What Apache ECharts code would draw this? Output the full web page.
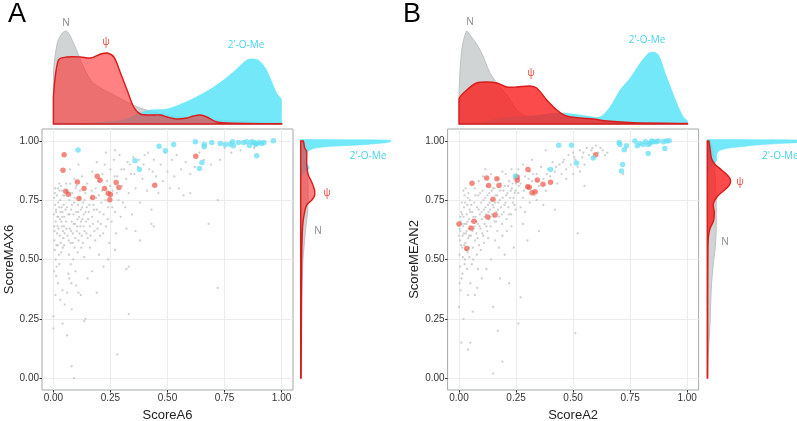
<!DOCTYPE html>
<html><head><meta charset="utf-8">
<script src="https://cdn.jsdelivr.net/npm/echarts@6/dist/echarts.min.js"></script>
<style>html,body{margin:0;padding:0;background:#fff}#c{width:797px;height:421px}</style>
</head><body><div id="c"></div>
<script>
// ---------- tick values ----------
const tickValues = [0, 0.25, 0.5, 0.75, 1];

// ---------- Panel A scatter ----------
const grayA = [
[0.005,0.62],[0.01,0.66],[0.012,0.70],[0.008,0.73],[0.015,0.77],[0.02,0.80],[0.004,0.58],[0.006,0.54],[0.018,0.64],[0.022,0.68],[0.025,0.72],[0.03,0.75],[0.028,0.60],[0.032,0.57],[0.035,0.66],[0.04,0.70],[0.038,0.79],[0.042,0.62],[0.045,0.73],[0.048,0.68],[0.01,0.50],[0.014,0.47],[0.002,0.69],[0.003,0.76],[0.019,0.56],[0.024,0.52],[0.027,0.79],[0.033,0.81],[0.036,0.72],[0.041,0.55],[0.046,0.64],[0.05,0.77],[0.007,0.80],[0.016,0.61],[0.021,0.74],[0.029,0.67],[0.044,0.59],[0.012,0.43],[0.02,0.40],[0.009,0.35],[0.003,0.45],[0.026,0.48],
[0.055,0.66],[0.06,0.72],[0.062,0.60],[0.065,0.69],[0.07,0.75],[0.072,0.63],[0.075,0.57],[0.078,0.71],[0.08,0.66],[0.083,0.78],[0.085,0.61],[0.088,0.69],[0.09,0.74],[0.093,0.55],[0.095,0.65],[0.098,0.80],[0.1,0.70],[0.102,0.62],[0.105,0.67],[0.108,0.73],[0.11,0.58],[0.113,0.68],[0.115,0.76],[0.118,0.64],[0.12,0.71],[0.124,0.60],[0.127,0.67],[0.13,0.74],[0.133,0.69],[0.136,0.62],[0.14,0.78],[0.143,0.66],[0.146,0.72],[0.15,0.59],[0.058,0.79],[0.068,0.52],[0.076,0.48],[0.087,0.50],[0.097,0.45],[0.066,0.44],[0.079,0.40],[0.106,0.53],[0.122,0.55],[0.135,0.51],[0.056,0.82],[0.092,0.84],[0.125,0.85],[0.072,0.88],[0.11,0.90],
[0.155,0.70],[0.16,0.64],[0.165,0.76],[0.17,0.68],[0.175,0.73],[0.18,0.62],[0.185,0.80],[0.19,0.71],[0.195,0.66],[0.2,0.77],[0.205,0.60],[0.21,0.74],[0.215,0.86],[0.22,0.69],[0.225,0.90],[0.23,0.64],[0.235,0.83],[0.24,0.72],[0.245,0.57],[0.25,0.88],[0.255,0.66],[0.26,0.79],[0.265,0.92],[0.27,0.70],[0.275,0.61],[0.28,0.85],[0.285,0.75],[0.29,0.94],[0.295,0.68],[0.3,0.81],[0.31,0.88],[0.315,0.72],[0.32,0.63],[0.325,0.91],[0.33,0.78],[0.34,0.86],[0.345,0.69],[0.35,0.93],[0.17,0.87],[0.19,0.91],[0.23,0.95],[0.27,0.96],[0.16,0.55],[0.2,0.52],
[0.36,0.80],[0.37,0.89],[0.38,0.74],[0.39,0.84],[0.4,0.94],[0.41,0.79],[0.42,0.88],[0.43,0.71],[0.44,0.92],[0.45,0.85],[0.46,0.78],[0.47,0.90],[0.48,0.83],[0.49,0.95],[0.5,0.87],[0.51,0.80],[0.52,0.92],[0.53,0.85],[0.54,0.94],[0.55,0.80],[0.56,0.88],[0.57,0.77],[0.58,0.91],[0.6,0.86],[0.6,0.78],[0.43,0.65],[0.44,0.64],[0.38,0.58],[0.36,0.62],[0.33,0.47],[0.32,0.46],
[0.62,0.89],[0.64,0.95],[0.66,0.92],[0.68,0.65],[0.69,0.90],[0.72,0.75],[0.72,0.38],[0.73,0.92],[0.75,0.97],[0.78,0.95],[0.82,0.96],[0.88,0.97],
[0.0,0.21],[0.0,0.26],[0.04,0.37],[0.06,0.36],[0.04,0.23],[0.06,0.18],[0.08,0.05],[0.09,0.0],[0.08,0.29],[0.12,0.35],[0.14,0.25],[0.135,0.24],[0.33,0.27],[0.28,0.10],[0.11,0.36],[0.07,0.42],[0.05,0.31],[0.1,0.39],[0.03,0.33],[0.17,0.45],[0.24,0.50],[0.27,0.54],[0.22,0.47],[0.19,0.36],[0.15,0.42],
[0.004,0.64],[0.011,0.71],[0.017,0.68],[0.023,0.63],[0.031,0.70],[0.037,0.64],[0.043,0.77],[0.049,0.61],[0.006,0.78],[0.013,0.56],[0.026,0.82],[0.034,0.53],[0.039,0.68],[0.047,0.56],[0.053,0.71],[0.057,0.63],[0.063,0.78],[0.067,0.58],[0.071,0.69],[0.074,0.82],[0.077,0.62],[0.081,0.73],[0.084,0.57],[0.089,0.65],[0.094,0.76],[0.096,0.59],[0.101,0.81],[0.104,0.64],[0.109,0.70],[0.114,0.61],[0.117,0.79],[0.121,0.66],[0.126,0.72],[0.129,0.57],[0.132,0.64],[0.137,0.75],[0.141,0.70],[0.145,0.61],[0.148,0.82],[0.152,0.67],[0.158,0.73],[0.163,0.60],[0.168,0.79],[0.173,0.65],[0.178,0.71],[0.183,0.58],[0.188,0.76],[0.193,0.63],[0.198,0.83],[0.203,0.70],[0.208,0.65],[0.213,0.79],[0.218,0.61],[0.228,0.75],[0.238,0.67],[0.248,0.81],[0.258,0.72],[0.268,0.85],[0.278,0.78],[0.298,0.88],[0.305,0.74],[0.318,0.84],[0.335,0.90],[0.355,0.86],[0.375,0.92],[0.395,0.90],[0.415,0.95],[0.435,0.87]
];
const psiA = [
[0.047,0.942],[0.042,0.876],[0.054,0.788],[0.066,0.775],[0.105,0.827],[0.112,0.757],[0.134,0.799],[0.172,0.761],[0.192,0.851],[0.204,0.834],[0.224,0.799],[0.240,0.779],[0.250,0.774],[0.247,0.752],[0.275,0.824],[0.287,0.803],[0.444,0.813],[0.624,0.935]
];
const omeA = [
[0.108,0.961],[0.377,0.879],[0.358,0.916],[0.463,0.977],[0.491,0.958],[0.527,0.985],[0.622,0.996],[0.640,0.883],[0.651,0.909],[0.661,0.975],[0.661,0.985],[0.694,0.993],[0.731,0.989],[0.753,0.985],[0.774,0.986],[0.785,0.996],[0.789,0.979],[0.811,0.993],[0.833,0.993],[0.847,0.996],[0.859,0.980],[0.869,0.996],[0.879,0.993],[0.891,0.937],[0.891,0.989],[0.902,0.993],[0.913,0.989],[0.923,0.993],[0.964,1.0],[0.886,0.985]
];

// ---------- Panel B scatter ----------
const grayB = [
[0.002,0.52],[0.004,0.58],[0.006,0.62],[0.008,0.66],[0.01,0.70],[0.012,0.74],[0.014,0.55],[0.016,0.60],[0.018,0.64],[0.02,0.68],[0.022,0.72],[0.024,0.77],[0.026,0.50],[0.028,0.57],[0.03,0.61],[0.032,0.65],[0.034,0.69],[0.036,0.73],[0.038,0.53],[0.04,0.59],[0.042,0.63],[0.044,0.67],[0.046,0.71],[0.048,0.75],[0.005,0.47],[0.015,0.44],[0.025,0.48],[0.035,0.46],[0.045,0.51],[0.003,0.40],[0.011,0.42],[0.007,0.37],[0.019,0.79],[0.029,0.80],[0.041,0.78],[0.001,0.60],[0.013,0.65],[0.023,0.56],[0.033,0.62],[0.043,0.55],
[0.052,0.60],[0.055,0.66],[0.058,0.70],[0.061,0.55],[0.064,0.63],[0.067,0.74],[0.07,0.58],[0.073,0.68],[0.076,0.61],[0.079,0.72],[0.082,0.65],[0.085,0.77],[0.088,0.56],[0.091,0.69],[0.094,0.63],[0.097,0.74],[0.1,0.67],[0.103,0.79],[0.106,0.60],[0.109,0.71],[0.112,0.65],[0.115,0.76],[0.118,0.69],[0.121,0.81],[0.124,0.62],[0.127,0.73],[0.13,0.67],[0.133,0.78],[0.136,0.71],[0.139,0.64],[0.142,0.75],[0.145,0.69],[0.148,0.80],[0.062,0.50],[0.078,0.52],[0.095,0.54],[0.11,0.57],[0.128,0.59],[0.069,0.80],[0.087,0.83],[0.105,0.85],[0.14,0.86],[0.115,0.88],[0.056,0.48],[0.083,0.46],
[0.152,0.72],[0.156,0.66],[0.16,0.77],[0.164,0.70],[0.168,0.62],[0.172,0.74],[0.176,0.68],[0.18,0.79],[0.184,0.72],[0.188,0.65],[0.192,0.76],[0.196,0.70],[0.2,0.81],[0.204,0.74],[0.208,0.67],[0.212,0.78],[0.216,0.72],[0.22,0.83],[0.224,0.76],[0.228,0.69],[0.232,0.80],[0.236,0.74],[0.24,0.84],[0.244,0.78],[0.248,0.71],[0.25,0.82],[0.158,0.58],[0.175,0.55],[0.19,0.60],[0.21,0.62],[0.23,0.64],[0.17,0.84],[0.19,0.87],[0.205,0.86],[0.23,0.88],
[0.26,0.78],[0.27,0.82],[0.28,0.76],[0.29,0.85],[0.3,0.80],[0.31,0.87],[0.32,0.83],[0.33,0.77],[0.34,0.86],[0.35,0.81],[0.36,0.89],[0.37,0.84],[0.38,0.79],[0.39,0.88],[0.4,0.85],[0.41,0.91],[0.42,0.87],[0.43,0.82],[0.44,0.90],[0.45,0.86],[0.27,0.72],[0.29,0.70],[0.31,0.74],[0.34,0.75],[0.37,0.73],[0.26,0.88],[0.28,0.90],[0.32,0.92],
[0.46,0.92],[0.47,0.88],[0.48,0.94],[0.49,0.90],[0.5,0.95],[0.51,0.92],[0.52,0.89],[0.53,0.96],[0.54,0.93],[0.55,0.90],[0.56,0.97],[0.57,0.94],[0.58,0.96],[0.59,0.93],[0.6,0.98],[0.61,0.95],[0.62,0.97],[0.63,0.96],[0.64,0.94],[0.65,0.95],[0.5,0.86],[0.47,0.84],[0.55,0.81],[0.53,0.87],
[0.0,0.30],[0.01,0.15],[0.04,0.12],[0.05,0.15],[0.07,0.35],[0.04,0.35],[0.15,0.30],[0.17,0.20],[0.19,0.07],[0.15,0.02],[0.27,0.34],[0.26,0.23],[0.51,0.19],[0.52,0.61],[0.42,0.71],[0.22,0.40],[0.18,0.42],[0.1,0.42],[0.05,0.40],[0.08,0.38],[0.35,0.62],[0.3,0.58],[0.28,0.65],[0.12,0.46],[0.14,0.50],[0.2,0.52],[0.24,0.55],[0.06,0.28],[0.02,0.25],[0.72,0.86],[0.38,0.96],
[0.003,0.63],[0.009,0.56],[0.014,0.69],[0.021,0.61],[0.027,0.74],[0.031,0.54],[0.037,0.66],[0.044,0.60],[0.049,0.70],[0.006,0.68],[0.017,0.51],[0.024,0.65],[0.039,0.76],[0.047,0.63],[0.054,0.73],[0.059,0.62],[0.063,0.68],[0.068,0.64],[0.072,0.77],[0.077,0.66],[0.081,0.59],[0.086,0.71],[0.09,0.64],[0.093,0.78],[0.099,0.70],[0.102,0.61],[0.107,0.75],[0.111,0.68],[0.116,0.72],[0.12,0.64],[0.125,0.77],[0.129,0.70],[0.134,0.74],[0.138,0.68],[0.143,0.79],[0.147,0.73],[0.151,0.68],[0.155,0.80],[0.159,0.74],[0.163,0.66],[0.167,0.77],[0.171,0.71],[0.179,0.75],[0.183,0.82],[0.187,0.69],[0.195,0.79],[0.199,0.73],[0.207,0.77],[0.215,0.81],[0.219,0.69],[0.227,0.79],[0.235,0.82],[0.239,0.76],[0.243,0.73],[0.247,0.79],[0.262,0.81],[0.285,0.79],[0.305,0.84],[0.325,0.86],[0.345,0.83],[0.385,0.86],[0.425,0.89],[0.455,0.91],[0.505,0.93],[0.545,0.95],[0.585,0.97]
];
const psiB = [
[0.0,0.650],[0.034,0.546],[0.053,0.633],[0.066,0.661],[0.057,0.821],[0.121,0.844],[0.130,0.812],[0.126,0.679],[0.149,0.754],[0.158,0.688],[0.166,0.840],[0.175,0.812],[0.255,0.848],[0.255,0.834],[0.302,0.879],[0.301,0.807],[0.308,0.804],[0.320,0.781],[0.334,0.786],[0.343,0.835],[0.368,0.817],[0.401,0.826],[0.599,0.942]
];
const omeB = [
[0.247,0.852],[0.401,0.879],[0.437,0.982],[0.493,0.982],[0.515,0.907],[0.588,0.928],[0.702,0.993],[0.705,0.985],[0.712,0.873],[0.717,0.900],[0.724,0.963],[0.734,0.979],[0.771,0.999],[0.781,0.979],[0.807,0.985],[0.818,0.996],[0.829,0.947],[0.836,0.989],[0.844,0.999],[0.851,0.996],[0.863,0.996],[0.873,0.999],[0.895,0.996],[0.902,0.968],[0.909,0.999],[0.921,1.0],[0.829,0.985],[0.793,0.989]
];

// ---------- top densities [score, height] ----------
const topGrayA = [[0,50],[0.017,81],[0.039,91],[0.057,93],[0.076,87],[0.105,72],[0.134,56],[0.17,42],[0.207,36],[0.265,29],[0.323,22],[0.381,16],[0.44,12],[0.527,8],[0.643,5],[0.789,3],[1,1]];
const topPsiA = [[0,27],[0.022,64],[0.06,67],[0.119,67],[0.163,66],[0.207,70],[0.236,71],[0.265,67],[0.294,51],[0.323,34],[0.352,17],[0.381,10],[0.425,9],[0.469,9],[0.498,7],[0.541,5],[0.585,6],[0.614,8],[0.643,9],[0.672,7],[0.716,2],[0.789,0.7],[1,0.3]];
const topOmeA = [[0,0.5],[0.1,0.8],[0.2,1.5],[0.3,4],[0.352,8],[0.381,11],[0.425,14],[0.498,15],[0.57,21],[0.643,29],[0.716,39],[0.789,52],[0.847,64],[0.869,65],[0.898,64],[0.934,54],[0.978,31],[1,24]];
const topGrayB = [[0,30],[0.012,74],[0.034,93],[0.055,87],[0.085,77],[0.107,67],[0.136,51],[0.166,41],[0.209,29],[0.267,11],[0.326,7],[0.4,9],[0.442,7],[0.5,4],[0.617,2],[1,0.5]];
const topPsiB = [[0,25],[0.034,34],[0.077,41],[0.12,42],[0.166,41],[0.209,37],[0.253,37],[0.31,38],[0.34,36],[0.384,24],[0.428,14],[0.47,8],[0.53,6],[0.588,5],[0.647,3],[0.764,1.3],[1,0.5]];
const topOmeB = [[0,0],[0.107,2],[0.18,6],[0.253,7],[0.355,9],[0.428,11],[0.5,10],[0.559,8],[0.617,7],[0.661,17],[0.705,34],[0.749,46],[0.793,61],[0.83,71],[0.851,72],[0.873,69],[0.909,47],[0.953,21],[0.982,7],[1,3]];

// ---------- right densities [score, width] ----------
const rightGrayA = [[1.0,3],[0.95,5],[0.9,6],[0.85,7],[0.8,7.5],[0.75,7.5],[0.7,7],[0.65,5.5],[0.6,4.3],[0.55,3.3],[0.5,2.3],[0.4,1.5],[0.3,1.1],[0.2,0.8],[0.1,0.5],[0.0,0.3]];
const rightPsiA = [[1.0,2.5],[0.97,4],[0.954,6],[0.92,6],[0.897,6],[0.855,7.7],[0.827,11],[0.79,14],[0.77,14],[0.75,11],[0.73,6],[0.686,3.3],[0.644,2],[0.574,1.3],[0.5,1],[0.3,0.7],[0.0,0.4]];
const rightOmeA = [[1.006,0],[1.003,90],[0.996,90],[0.99,80],[0.984,63],[0.976,29],[0.968,13],[0.955,7],[0.94,5],[0.92,5],[0.9,7],[0.885,8.7],[0.87,5],[0.855,1.5],[0.84,0]];
const rightGrayB = [[1.0,3],[0.95,6],[0.9,7],[0.85,8],[0.8,8.5],[0.75,9],[0.7,9],[0.65,9],[0.6,8.7],[0.55,8],[0.5,6.5],[0.45,5.3],[0.4,4.3],[0.3,3.3],[0.22,2.7],[0.1,1],[0.0,0.4]];
const rightPsiB = [[1.0,1.5],[0.96,3],[0.925,4.3],[0.9,8],[0.883,12.7],[0.86,19],[0.841,22.7],[0.827,23.3],[0.81,21.5],[0.8,19.3],[0.785,15],[0.77,11],[0.75,7.5],[0.73,6],[0.70,7],[0.68,6.8],[0.66,6],[0.63,2.7],[0.59,1],[0.5,0.6],[0.3,0.4],[0.0,0.3]];
const rightOmeB = [[1.006,0],[1.003,100],[0.996,100],[0.989,73],[0.982,48],[0.975,33],[0.967,18],[0.96,12.7],[0.95,10],[0.935,9.5],[0.915,9],[0.9,6],[0.885,3],[0.87,1],[0.85,0]];

// ---------- labels ----------
const axisNames = { ax: 'ScoreA6', ay: 'ScoreMAX6', bx: 'ScoreA2', by: 'ScoreMEAN2' };

const C_GRAY_FILL = 'rgba(192,197,197,0.75)', C_GRAY_LINE = '#b4b8b8';
const C_CYAN_FILL = 'rgba(90,228,248,0.85)';
const C_RED_LINE = '#d81c1c';
const C_TXT_GRAY = '#8a8a8a', C_TXT_RED = '#e8473c', C_TXT_CYAN = '#45d3ec';

function densityRender(points, vertical, style) {
  return function (params, api) {
    if (params.dataIndex !== 0) return null;
    const pts = points.map(p => vertical ? api.coord([p[1], p[0]]) : api.coord(p));
    const first = points[0], last = points[points.length - 1];
    if (vertical) { pts.unshift(api.coord([0, first[0]])); pts.push(api.coord([0, last[0]])); }
    else { pts.unshift(api.coord([first[0], 0])); pts.push(api.coord([last[0], 0])); }
    return { type: 'polygon', shape: { points: pts, smooth: 0.3, smoothConstraint: [[Infinity, Infinity], [-Infinity, -Infinity]] }, style: style };
  };
}
function densitySeries(points, vertical, axisIdx, style, z) {
  return {
    type: 'custom', coordinateSystem: 'cartesian2d', xAxisIndex: axisIdx, yAxisIndex: axisIdx,
    data: vertical ? points.map(p => [p[1], p[0]]) : points,
    renderItem: densityRender(points, vertical, style), silent: true, z: z, clip: false
  };
}

const tickFont = { color: '#333', fontSize: 10, fontFamily: 'Liberation Sans, Arial, sans-serif' };
const nameFont = { color: '#222', fontSize: 13, fontFamily: 'Liberation Sans, Arial, sans-serif' };
function scatterAxis(grid, name, gap) {
  return { gridIndex: grid, type: 'value', min: -0.05, max: 1.05, name: name, nameLocation: 'middle', nameGap: gap,
    nameTextStyle: nameFont,
    axisLine: { show: false, onZero: false }, axisTick: { show: true, length: 2.5, lineStyle: { color: '#333' }, customValues: tickValues },
    axisLabel: Object.assign({ customValues: tickValues, margin: 3, formatter: v => v.toFixed(2) }, tickFont),
    splitLine: { show: true, lineStyle: { color: '#ececec', width: 1 } } };
}
function hiddenAxis(grid, min, max) { return { gridIndex: grid, type: 'value', min: min, max: max, show: false, axisLine: { onZero: false }, splitLine: { show: false } }; }

const gridBase = { containLabel: false, outerBoundsMode: 'none' };
const grids = [
  Object.assign({ left: 42, top: 129, width: 251, height: 261, show: true, borderColor: '#a3a8a8', borderWidth: 1, backgroundColor: '#fff' }, gridBase),
  Object.assign({ left: 53.4, top: 24, width: 228.2, height: 100 }, gridBase),
  Object.assign({ left: 300.7, top: 129, width: 100, height: 261 }, gridBase),
  Object.assign({ left: 447.6, top: 129, width: 251, height: 261, show: true, borderColor: '#a3a8a8', borderWidth: 1, backgroundColor: '#fff' }, gridBase),
  Object.assign({ left: 459, top: 24, width: 228.5, height: 100 }, gridBase),
  Object.assign({ left: 707.3, top: 129, width: 100, height: 261 }, gridBase)
];
const xAxes = [scatterAxis(0, axisNames.ax, 19), hiddenAxis(1, 0, 1), hiddenAxis(2, 0, 100), scatterAxis(3, axisNames.bx, 19), hiddenAxis(4, 0, 1), hiddenAxis(5, 0, 100)];
const yAxes = [scatterAxis(0, axisNames.ay, 21), hiddenAxis(1, 0, 100), hiddenAxis(2, -0.05, 1.05), scatterAxis(3, axisNames.by, 25), hiddenAxis(4, 0, 100), hiddenAxis(5, -0.05, 1.05)];

function panelSeries(off, gray, psi, ome, tg, tp, to, rg, rp, ro, redFill) {
  const grayStyle = { fill: C_GRAY_FILL, stroke: C_GRAY_LINE, lineWidth: 0.8 };
  const cyanStyle = { fill: C_CYAN_FILL, stroke: 'rgba(90,228,248,0.9)', lineWidth: 0.5 };
  const redStyle = { fill: redFill, stroke: C_RED_LINE, lineWidth: 1.4 };
  return [
    { type: 'scatter', xAxisIndex: off, yAxisIndex: off, data: gray, symbolSize: 2.3, itemStyle: { color: '#c6caca', opacity: 0.9 }, silent: true, z: 2 },
    { type: 'scatter', xAxisIndex: off, yAxisIndex: off, data: psi, symbolSize: 5.5, itemStyle: { color: 'rgba(236,84,72,0.85)' }, silent: true, z: 3 },
    { type: 'scatter', xAxisIndex: off, yAxisIndex: off, data: ome, symbolSize: 5.5, itemStyle: { color: 'rgba(98,222,242,0.9)' }, silent: true, z: 3 },
    densitySeries(tg, false, off + 1, grayStyle, 2),
    densitySeries(to, false, off + 1, cyanStyle, 3),
    densitySeries(tp, false, off + 1, redStyle, 4),
    densitySeries(rg, true, off + 2, grayStyle, 2),
    densitySeries(ro, true, off + 2, cyanStyle, 3),
    densitySeries(rp, true, off + 2, redStyle, 4)
  ];
}

const series = [].concat(
  panelSeries(0, grayA, psiA, omeA, topGrayA, topPsiA, topOmeA, rightGrayA, rightPsiA, rightOmeA, 'rgba(255,45,45,0.6)'),
  panelSeries(3, grayB, psiB, omeB, topGrayB, topPsiB, topOmeB, rightGrayB, rightPsiB, rightOmeB, 'rgba(250,30,30,0.8)')
);

const lf = 'Open Sans, Liberation Sans, sans-serif';
function txt(x, y, s, color, size, family, align) {
  return { type: 'text', x: x, y: y, style: { text: s, fill: color, font: (size || 10) + 'px ' + (family || lf), textAlign: align || 'center', textVerticalAlign: 'middle' }, z: 10 };
}
const graphics = [
  txt(17, 15, 'A', '#000', 27, 'Liberation Sans, Arial, sans-serif'),
  txt(412, 15, 'B', '#000', 27, 'Liberation Sans, Arial, sans-serif'),
  txt(66, 23, 'N', C_TXT_GRAY), txt(106, 42, 'ψ', C_TXT_RED), txt(246, 45, "2'-O-Me", C_TXT_CYAN),
  txt(368, 156, "2'-O-Me", C_TXT_CYAN), txt(327, 193, 'ψ', C_TXT_RED), txt(318, 231, 'N', C_TXT_GRAY),
  txt(470, 22, 'N', C_TXT_GRAY), txt(531, 73, 'ψ', C_TXT_RED), txt(647, 40, "2'-O-Me", C_TXT_CYAN),
  txt(762, 156, "2'-O-Me", C_TXT_CYAN, 10, lf, 'left'), txt(740, 182, 'ψ', C_TXT_RED), txt(725, 242, 'N', C_TXT_GRAY)
];

const chart = echarts.init(document.getElementById('c'), null, { renderer: 'canvas' });
chart.setOption({
  animation: false,
  backgroundColor: '#fff',
  grid: grids, xAxis: xAxes, yAxis: yAxes,
  series: series,
  graphic: graphics
});
</script>
</body></html>
